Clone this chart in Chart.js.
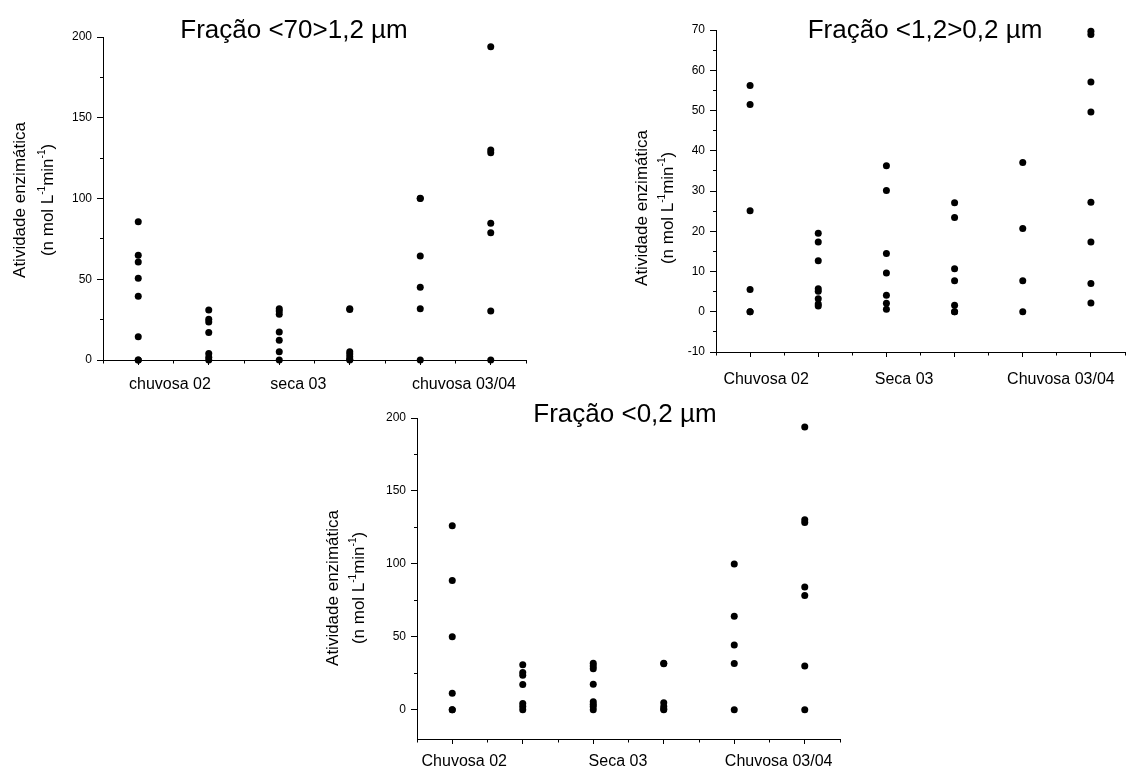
<!DOCTYPE html>
<html lang="pt">
<head>
<meta charset="UTF-8">
<title>Atividade enzimática por fração</title>
<script src="https://cdn.jsdelivr.net/npm/chart.js"></script>
<style>
  html, body { margin: 0; padding: 0; background: #fff; }
  #quadro { position: relative; width: 1140px; height: 777px; }
  #quadro canvas { position: absolute; left: 0; top: 0; }
</style>
</head>
<body>
<div id="quadro">
  <canvas id="graf70" width="1140" height="777"></canvas>
  <canvas id="graf12" width="1140" height="777"></canvas>
  <canvas id="graf02" width="1140" height="777"></canvas>
</div>
<script>
const FONTE = '"Liberation Sans", Arial, sans-serif';

// posição de cada coleta no eixo x
const coletas = [1, 2, 3, 4, 5, 6];

// rótulos do eixo x
const rotulosMinusc = ['chuvosa 02', 'seca 03', 'chuvosa 03/04'];
const rotulosMaiusc = ['Chuvosa 02', 'Seca 03', 'Chuvosa 03/04'];

// valores (n mol L-1 min-1), uma lista por coleta
const fracao70 = [
  [85.6, 64.8, 60.7, 50.6, 39.4, 14.4, 0, 0],
  [31, 25.2, 23.5, 17.1, 4.1, 1.7, 0],
  [31.8, 30.3, 28.3, 17.3, 12.2, 5.1, 0],
  [31.8, 31.2, 5.1, 3.7, 2, 0.5, 0],
  [100.1, 100, 64.4, 45, 31.8, 0],
  [194, 130, 128.4, 84.6, 78.8, 30.3, 0]
];
const fracao12 = [
  [56.2, 51.5, 25.1, 5.5, 0, 0],
  [19.5, 17.3, 12.7, 5.7, 5.1, 3.2, 1.9, 1.4],
  [36.3, 30.1, 14.5, 9.6, 4.1, 2.1, 0.6],
  [27.1, 23.4, 10.7, 7.7, 1.6, 0, 0],
  [37.1, 20.7, 7.7, 0],
  [69.7, 68.9, 57.1, 49.6, 27.2, 17.3, 7.0, 2.2]
];
const fracao02 = [
  [126.1, 88.7, 50.1, 11.4, 0, 0],
  [30.9, 25.5, 23.7, 17.3, 4.3, 2.3, 0],
  [31.9, 30, 28.2, 17.5, 5.5, 3.9, 2.3, 0],
  [31.9, 31.5, 4.8, 2.3, 0.5, 0],
  [99.9, 64.2, 44.4, 31.7, 0],
  [193.9, 130.2, 128.3, 84.2, 78.3, 30, 0]
];

// marcas principais do eixo y
const ticksY70 = [0, 50, 100, 150, 200];
const ticksY12 = [-10, 0, 10, 20, 30, 40, 50, 60, 70];
const ticksY02 = [0, 50, 100, 150, 200];

const tituloEixo = 'Atividade enzimática';
const unidade = [['(n mol L', false], ['-1', true], ['min', false], ['-1', true], [')', false]];

// títulos e rótulo do eixo y desenhados sobre o canvas
const textos = {
  id: 'textos',
  afterDraw(chart, args, o) {
    const ctx = chart.ctx;
    ctx.save();
    ctx.fillStyle = '#000';
    ctx.font = '26px ' + FONTE;
    ctx.textAlign = 'center';
    ctx.textBaseline = 'alphabetic';
    ctx.fillText(o.titulo, o.tx, o.ty);

    ctx.translate(o.ex1, o.ey);
    ctx.rotate(-Math.PI / 2);
    ctx.font = '17px ' + FONTE;
    ctx.textBaseline = 'middle';
    ctx.fillText(tituloEixo, 0, 0);
    ctx.restore();

    ctx.save();
    ctx.fillStyle = '#000';
    ctx.translate(o.ex2, o.ey);
    ctx.rotate(-Math.PI / 2);
    ctx.textAlign = 'left';
    ctx.textBaseline = 'middle';
    let total = 0;
    unidade.forEach(p => {
      ctx.font = (p[1] ? '10px ' : '17px ') + FONTE;
      total += ctx.measureText(p[0]).width;
    });
    let x = -total / 2;
    unidade.forEach(p => {
      ctx.font = (p[1] ? '10px ' : '17px ') + FONTE;
      ctx.fillText(p[0], x, p[1] ? -6 : 0);
      x += ctx.measureText(p[0]).width;
    });
    ctx.restore();
  }
};

function pontos(valores) {
  const pts = [];
  coletas.forEach((c, i) => valores[i].forEach(v => pts.push({ x: c, y: v })));
  return pts;
}

function escalaX(rotulos, posicoes, pad, altura) {
  return {
    type: 'linear', position: 'bottom', min: 0.5, max: 6.5,
    afterBuildTicks: s => {
      const v = [];
      for (let k = 0.5; k <= 6.5; k += 0.5) v.push(k);
      s.ticks = v.concat(posicoes).sort((a, b) => a - b).map(value => ({ value }));
    },
    afterFit: s => { s.height = altura; },
    border: { display: true, color: '#000', width: 1 },
    grid: {
      drawOnChartArea: false, drawTicks: true, tickLength: 5,
      tickColor: c => posicoes.includes(c.tick.value) ? 'rgba(0,0,0,0)' : '#000',
      tickBorderDash: c => Number.isInteger(c.tick.value) ? [] : [2.5, 2.5]
    },
    ticks: {
      autoSkip: false, maxRotation: 0, minRotation: 0, padding: pad, color: '#000',
      font: { family: FONTE, size: 16 },
      callback: v => { const i = posicoes.indexOf(v); return i >= 0 ? rotulos[i] : ''; }
    }
  };
}

function escalaY(min, max, maiores) {
  const menores = maiores.slice(1).map((v, i) => (v + maiores[i]) / 2);
  return {
    type: 'linear', position: 'left', min, max,
    afterBuildTicks: s => {
      s.ticks = maiores.concat(menores).sort((a, b) => a - b).map(value => ({ value }));
    },
    afterFit: s => { s.width = 50; },
    border: { display: true, color: '#000', width: 1 },
    grid: {
      drawOnChartArea: false, drawTicks: true, tickLength: 6, tickColor: '#000',
      tickBorderDash: c => maiores.includes(c.tick.value) ? [] : [0, 3, 3, 0]
    },
    ticks: {
      padding: 5, color: '#000', font: { family: FONTE, size: 12 },
      callback: v => maiores.includes(v) ? String(v) : ''
    }
  };
}

function grafico(id, valores, c) {
  new Chart(document.getElementById(id), {
    type: 'scatter',
    data: {
      datasets: [{
        data: pontos(valores),
        pointRadius: 3.5,
        pointBackgroundColor: '#000',
        pointBorderWidth: 0,
        clip: false
      }]
    },
    options: {
      responsive: false,
      animation: false,
      events: [],
      layout: { padding: c.area },
      scales: {
        x: escalaX(c.rotulos, c.posRotulos, c.padX, c.alturaX),
        y: escalaY(c.min, c.max, c.ticksY)
      },
      plugins: {
        legend: { display: false },
        tooltip: { enabled: false },
        textos: c.textos
      }
    },
    plugins: [textos]
  });
}

grafico('graf70', fracao70, {
  area: { left: 53, top: 37, right: 614, bottom: 372 }, alturaX: 45,
  rotulos: rotulosMinusc, posRotulos: [1.45, 3.27, 5.62], padX: 10,
  min: 0, max: 200, ticksY: ticksY70,
  textos: { titulo: 'Fração <70>1,2 µm', tx: 294, ty: 38, ex1: 20.5, ex2: 48, ey: 200 }
});

grafico('graf12', fracao12, {
  area: { left: 666, top: 30, right: 15, bottom: 380 }, alturaX: 45,
  rotulos: rotulosMaiusc, posRotulos: [1.235, 3.26, 5.56], padX: 13,
  min: -10, max: 70, ticksY: ticksY12,
  textos: { titulo: 'Fração <1,2>0,2 µm', tx: 925, ty: 38, ex1: 642, ex2: 668, ey: 208 }
});

grafico('graf02', fracao02, {
  area: { left: 367, top: 418, right: 300, bottom: 0 }, alturaX: 38,
  rotulos: rotulosMaiusc, posRotulos: [1.17, 3.35, 5.63], padX: 8,
  min: -20, max: 200, ticksY: ticksY02,
  textos: { titulo: 'Fração <0,2 µm', tx: 625, ty: 422, ex1: 333, ex2: 359.5, ey: 588 }
});
</script>
</body>
</html>
